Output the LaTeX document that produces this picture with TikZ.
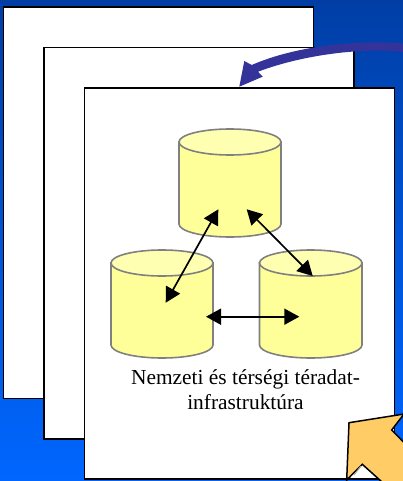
\documentclass[tikz,border=0pt]{standalone}
\usepackage{fontspec}
\setmainfont{Liberation Serif}
\usetikzlibrary{arrows.meta}
\definecolor{bgtop}{RGB}{0,62,165}
\definecolor{bgbot}{RGB}{0,102,255}
\definecolor{cylbody}{RGB}{255,255,153}
\definecolor{cylcap}{RGB}{255,255,178}
\definecolor{cyledge}{RGB}{128,128,128}
\definecolor{purplearrow}{RGB}{51,51,153}
\definecolor{orangearrow}{RGB}{255,204,102}
\tikzset{
  x=1pt,y=-1pt,
  pagesheet/.style={draw=black,fill=white,line width=1.7pt},
  cylshape/.style={draw=cyledge,fill=cylbody,line width=1.6pt},
  cylcapshape/.style={draw=cyledge,fill=cylcap,line width=1.6pt},
  link/.style={draw=black,line width=1.7pt,{Triangle[length=15pt,width=16pt]}-{Triangle[length=15pt,width=16pt]},shorten <=0pt,shorten >=0pt},
  caption/.style={font=\fontsize{21.4}{25}\selectfont,align=center,text=black,inner sep=0pt}
}
\newcommand{\cyl}[3]{% left x, right x, top y of cap centre
  \path[cylshape] (#1,#3) -- (#1,#3+82) arc[start angle=180,end angle=0,x radius={(#2-#1)/2},y radius=13] -- (#2,#3) -- cycle;
  \path[cylcapshape] ({(#1+#2)/2},#3) ellipse[x radius={(#2-#1)/2},y radius=13];
}
\begin{document}
\begin{tikzpicture}
\useasboundingbox (0,0) rectangle (403,481);
\shade[top color=bgtop,bottom color=bgbot,middle color=bgbot!55!bgtop] (0,0) rectangle (403,481);
\node[pagesheet,minimum width=310pt,minimum height=391pt,inner sep=0pt,anchor=north west] (sheetA) at (2.7,6.5) {};
\node[pagesheet,minimum width=310pt,minimum height=391pt,inner sep=0pt,anchor=north west] (sheetB) at (43.3,46.8) {};
\node[pagesheet,minimum width=310pt,minimum height=391pt,inner sep=0pt,anchor=north west] (sheetC) at (83.5,87) {};
\cyl{179}{281}{142}
\cyl{111}{213}{263}
\cyl{259.5}{362}{263}
\coordinate (topL) at (218.3,209.3);
\coordinate (topR) at (246.7,209.3);
\coordinate (leftIn) at (165.7,302.7);
\coordinate (leftEdge) at (206,316.7);
\coordinate (rightTop) at (312.7,276);
\coordinate (rightIn) at (299.3,316.7);
\draw[link] (topL) -- (leftIn);
\draw[link] (topR) -- (rightTop);
\draw[link] (leftEdge) -- (rightIn);
\node[caption] (cap) at (245.5,390) {Nemzeti és térségi téradat-\\infrastruktúra};
\fill[purplearrow] (403,43.5) .. controls (365,40) and (300,44) .. (251.7,65)
  -- (244.3,61) -- (239.3,86.7) -- (262.7,76.7) -- (258,71.7)
  .. controls (305,54) and (365,47.5) .. (403,52) -- cycle;
\draw[draw=black,fill=orangearrow,line width=1.5pt] (404,414) -- (349,422.7) -- (346.7,480) -- (362.3,464.3) -- (382,482) -- (404,482) -- (404,442.5) -- (391.7,430) -- cycle;
\draw[draw=black!35,line width=1pt] (354,475) -- (361,466);
\end{tikzpicture}
\end{document}
